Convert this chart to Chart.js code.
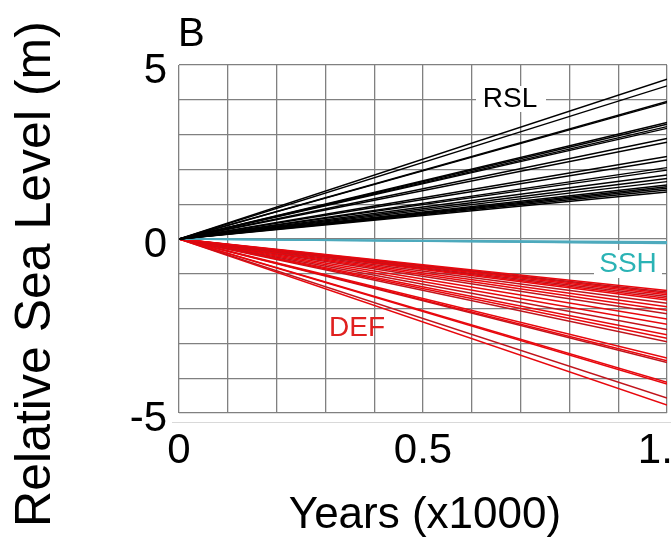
<!DOCTYPE html>
<html>
<head>
<meta charset="utf-8">
<title>Relative Sea Level</title>
<style>
html, body { margin: 0; padding: 0; background: white; }
</style>
</head>
<body>
<canvas id="myChart" width="671" height="545"></canvas>
<script src="https://cdn.jsdelivr.net/npm/chart.js@4.4.1/dist/chart.umd.min.js"></script>
<script>
// x positions (years x1000): every line starts at 0 and ends at 1
const years = [0, 1];
const startLevel = 0;

// sea level (m) reached at x = 1 for each run
const rslEnd = [4.59, 4.40, 3.95, 3.92, 3.35, 3.30, 3.23, 3.18, 2.89, 2.78, 2.37, 2.27,
                2.05, 1.98, 1.84, 1.74, 1.65, 1.55, 1.50, 1.46, 1.41, 1.35];
const sshEnd = [-0.08, -0.10, -0.12, -0.13];
const defEnd = [-1.48, -1.52, -1.56, -1.60, -1.65, -1.70, -1.75, -1.85, -1.95, -2.05,
                -2.15, -2.30, -2.45, -2.60, -2.75, -2.85, -2.95, -3.42, -3.50, -3.55,
                -4.12, -4.17, -4.57, -4.77];

// tick labels
const xTickValues = [0, 0.5, 1];
const xTickText = ['0', '0.5', '1.0'];
const yTickValues = [-5, 0, 5];
const yTickText = ['-5', '0', '5'];

const FONT = '"Liberation Sans", Arial, sans-serif';

function makeSet(end, color, width) {
    return {
        data: [{x: years[0], y: startLevel}, {x: years[1], y: end}],
        borderColor: color,
        borderWidth: width,
        showLine: true,
        pointRadius: 0,
        fill: false
    };
}

const datasets = [];
rslEnd.forEach(v => datasets.push(makeSet(v, '#000000', 1.4)));
sshEnd.forEach(v => datasets.push(makeSet(v, '#4eaabd', 1.6)));
defEnd.forEach((v, i) => datasets.push(makeSet(v, i % 3 == 1 ? '#c0141c' : '#e8070d', 1.5)));

function findLabel(values, texts, v) {
    for (let i = 0; i < values.length; i++) {
        if (Math.abs(values[i] - v) < 1e-6) return texts[i];
    }
    return '';
}

// extra text: panel letter, axis titles, series labels
const annotations = {
    id: 'annotations',
    afterDatasetsDraw(chart) {
        const ctx = chart.ctx;
        ctx.save();

        // faint axis line below plot
        ctx.strokeStyle = '#d9d9d9';
        ctx.lineWidth = 1;
        ctx.beginPath();
        ctx.moveTo(172, 422.5);
        ctx.lineTo(671, 422.5);
        ctx.stroke();

        ctx.fillStyle = '#000';
        ctx.textBaseline = 'alphabetic';
        ctx.textAlign = 'left';
        ctx.font = '40px ' + FONT;
        ctx.fillText('B', 178, 46);

        ctx.textAlign = 'center';
        ctx.textBaseline = 'middle';
        ctx.font = '44px ' + FONT;
        ctx.fillText('Years (x1000)', 425, 516);

        ctx.save();
        ctx.translate(36, 274);
        ctx.rotate(-Math.PI / 2);
        ctx.font = '50px ' + FONT;
        ctx.fillText('Relative Sea Level (m)', 0, 0);
        ctx.restore();

        ctx.font = '28px ' + FONT;
        ctx.fillStyle = '#fff';
        ctx.fillRect(476, 86, 70, 26);
        ctx.fillRect(594, 250, 68, 28);
        ctx.fillStyle = '#000';
        ctx.fillText('RSL', 510, 99);
        ctx.fillStyle = '#2bb3b5';
        ctx.fillText('SSH', 628, 264);
        ctx.fillStyle = '#e0201f';
        ctx.fillText('DEF', 357, 328);
        ctx.restore();
    }
};

const config = {
    type: 'scatter',
    data: { datasets },
    options: {
        responsive: false,
        animation: false,
        layout: { padding: { top: 65, right: 4, left: 0, bottom: 0 } },
        plugins: { legend: { display: false }, tooltip: { enabled: false } },
        scales: {
            x: {
                type: 'linear', min: 0, max: 1,
                border: { display: false },
                grid: { color: '#808080', lineWidth: 1.3, drawTicks: false },
                ticks: {
                    stepSize: 0.1, autoSkip: false, maxRotation: 0, padding: 13,
                    color: '#000', font: { family: FONT, size: 42 },
                    callback: v => findLabel(xTickValues, xTickText, v)
                },
                afterFit: s => { s.height = 132; s.paddingLeft = 0; s.paddingRight = 0; }
            },
            y: {
                min: -5, max: 5,
                border: { display: false },
                grid: { color: '#808080', lineWidth: 1.3, drawTicks: false },
                ticks: {
                    stepSize: 1, autoSkip: false, padding: 12, labelOffset: 6,
                    color: '#000', font: { family: FONT, size: 42 },
                    callback: v => findLabel(yTickValues, yTickText, v)
                },
                afterFit: s => { s.width = 179; s.paddingTop = 0; s.paddingBottom = 0; }
            }
        }
    },
    plugins: [annotations]
};

const myChart = new Chart(document.getElementById('myChart'), config);
</script>
</body>
</html>
